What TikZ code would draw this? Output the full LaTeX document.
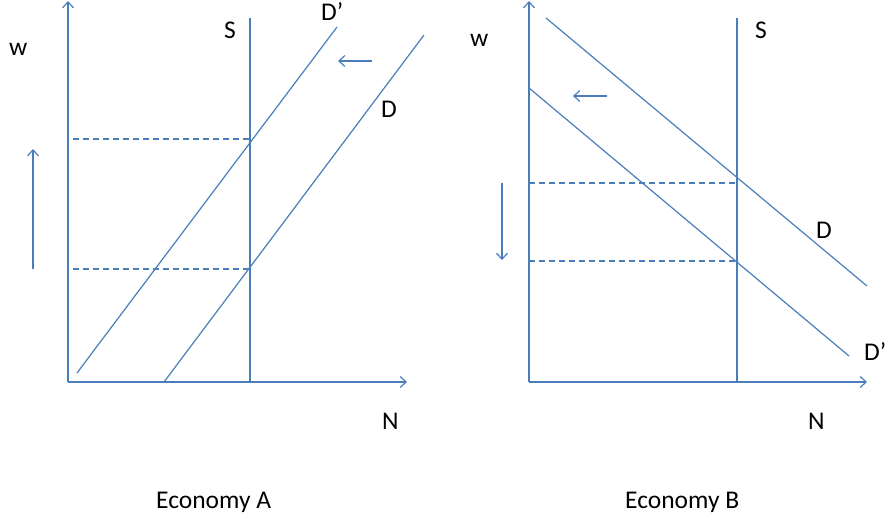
\documentclass[tikz,border=0pt]{standalone}
\usepackage{fontspec}
\setmainfont{Carlito}
\usetikzlibrary{arrows.meta}
\definecolor{lineblue}{HTML}{4A7EBB}
\begin{document}
\begin{tikzpicture}[x=1pt,y=-1pt,
  ln/.style={draw=lineblue,line width=1.2pt},
  ar/.style={ln,-{Straight Barb[length=6pt,width=11pt,line width=1.2pt]}},
  dsh/.style={draw=lineblue,line width=1.2pt,dash pattern=on 6pt off 4pt},
  lbl/.style={inner sep=0pt,anchor=base west,font=\fontsize{25.5}{30}\selectfont}]
\useasboundingbox (0,0) rectangle (888,519);
% ---------- Economy A ----------
\coordinate (Ao) at (68,382);
\coordinate (Ay) at (68,1);
\coordinate (Ax) at (407,382);
\coordinate (Sat) at (250,18);
\coordinate (Sab) at (250,382);
\coordinate (Dpa1) at (77,373);
\coordinate (Dpa2) at (337,27);
\coordinate (Da1) at (164,382);
\coordinate (Da2) at (424,35);
\coordinate (Ahi1) at (73,139);
\coordinate (Ahi2) at (250,139);
\coordinate (Alo1) at (73,269);
\coordinate (Alo2) at (250,269);
\coordinate (Aup1) at (33,269);
\coordinate (Aup2) at (33,149);
\coordinate (Ash1) at (372,61);
\coordinate (Ash2) at (338,61);
\draw[ar] (Ao) -- (Ay);
\draw[ar] (Ao) -- (Ax);
\draw[ln] (Sab) -- (Sat);
\draw[ln] (Dpa1) -- (Dpa2);
\draw[ln] (Da1) -- (Da2);
\draw[dsh] (Ahi1) -- (Ahi2);
\draw[dsh] (Alo1) -- (Alo2);
\draw[ar] (Aup1) -- (Aup2);
\draw[ar] (Ash1) -- (Ash2);
\node[lbl] (wA) at (9,56) {w};
\node[lbl] (SA) at (224,39) {S};
\node[lbl] (DpA) at (321,21) {D’};
\node[lbl] (DA) at (381,117) {D};
\node[lbl] (NA) at (382,429) {N};
\node[lbl] (EA) at (156,508) {Economy A};
% ---------- Economy B ----------
\coordinate (Bo) at (529,382);
\coordinate (By) at (529,1);
\coordinate (Bx) at (867,382);
\coordinate (Sbt) at (737,18);
\coordinate (Sbb) at (737,382);
\coordinate (Db1) at (546,18);
\coordinate (Db2) at (867,286);
\coordinate (Dpb1) at (529,88);
\coordinate (Dpb2) at (849,356);
\coordinate (Bhi1) at (529,183);
\coordinate (Bhi2) at (737,183);
\coordinate (Blo1) at (529,261);
\coordinate (Blo2) at (737,261);
\coordinate (Bdn1) at (502,183);
\coordinate (Bdn2) at (502,260);
\coordinate (Bsh1) at (607,96);
\coordinate (Bsh2) at (573,96);
\draw[ar] (Bo) -- (By);
\draw[ar] (Bo) -- (Bx);
\draw[ln] (Sbb) -- (Sbt);
\draw[ln] (Db1) -- (Db2);
\draw[ln] (Dpb1) -- (Dpb2);
\draw[dsh] (Bhi1) -- (Bhi2);
\draw[dsh] (Blo1) -- (Blo2);
\draw[ar] (Bdn1) -- (Bdn2);
\draw[ar] (Bsh1) -- (Bsh2);
\node[lbl] (wB) at (470,47) {w};
\node[lbl] (SB) at (755,39) {S};
\node[lbl] (DB) at (816,238) {D};
\node[lbl] (DpB) at (864,360) {D’};
\node[lbl] (NB) at (808,429) {N};
\node[lbl] (EB) at (625,508) {Economy B};
\end{tikzpicture}
\end{document}
